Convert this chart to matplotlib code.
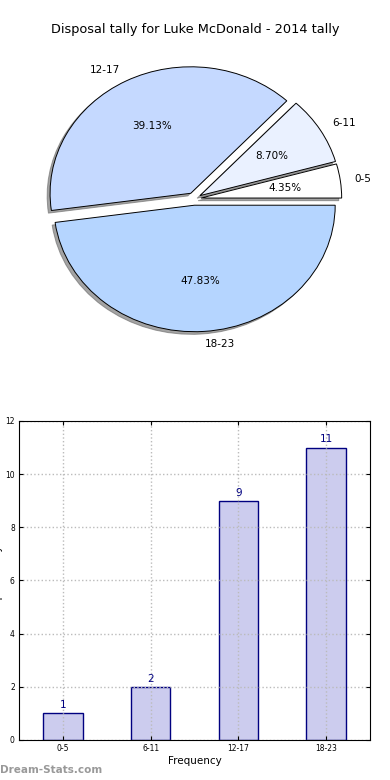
import matplotlib
matplotlib.use("Agg")
import matplotlib.pyplot as plt

labels = ["0-5", "6-11", "12-17", "18-23"]
counts = [1, 2, 9, 11]
pie_colors = ["#ffffff", "#eaf1ff", "#c5d9ff", "#b5d5ff"]
explode = [0.05, 0.05, 0.05, 0.05]

title = "Disposal tally for Luke McDonald - 2014 tally"

fig = plt.figure(figsize=(3.9, 7.8), dpi=100)
fig.patch.set_facecolor("white")

# pie (top) - old style, not forced round
ax1 = fig.add_axes([0.0465, 0.5423, 0.9019, 0.4054])
wedges, texts, autotexts = ax1.pie(
    counts,
    labels=labels,
    colors=pie_colors,
    explode=explode,
    autopct="%.2f%%",
    shadow={"ox": -0.015, "oy": -0.015, "facecolor": "0.4", "edgecolor": "0.4", "alpha": 0.6},
    wedgeprops={"edgecolor": "black", "linewidth": 0.7},
    textprops={"fontsize": 7.5},
)
ax1.set_aspect("auto")
ax1.set_xlim(-1.25, 1.25)
ax1.set_ylim(-1.25, 1.25)

fig.text(0.5, 1 - 30 / 780, title, ha="center", va="center", fontsize=9.3)

# bars (bottom)
ax2 = fig.add_axes([0.0487, 0.0513, 0.9, 0.409])
x = range(len(labels))
ax2.bar(x, counts, width=0.45, color="#ccccee", edgecolor="#000080", linewidth=1)
for xi, c in zip(x, counts):
    ax2.text(xi, c + 0.12, str(c), ha="center", va="bottom", fontsize=7.5, color="#000080")

ax2.set_xlim(-0.5, 3.5)
ax2.set_ylim(0, 12)
ax2.set_xticks(list(x))
ax2.set_xticklabels(labels)
ax2.set_yticks(range(0, 13, 2))
ax2.tick_params(direction="in", top=True, right=True, length=3, labelsize=5.5, pad=3)
ax2.grid(True, linestyle=":", color="#bbbbbb", linewidth=1)
ax2.set_axisbelow(False)
for s in ax2.spines.values():
    s.set_linewidth(0.8)
    s.set_zorder(3)

ax2.set_xlabel("Frequency", fontsize=7.5, labelpad=2)
# label sits mostly off the left edge, as in the original
ax2.set_ylabel("Disposal Tally", fontsize=7.5)
ax2.yaxis.set_label_coords(-0.046, 0.5)

fig.text(0.0, 1 - 770 / 780, "Dream-Stats.com", ha="left", va="center",
         fontsize=7.5, fontweight="bold", color="#999999")

fig.savefig("out.png", dpi=100)
